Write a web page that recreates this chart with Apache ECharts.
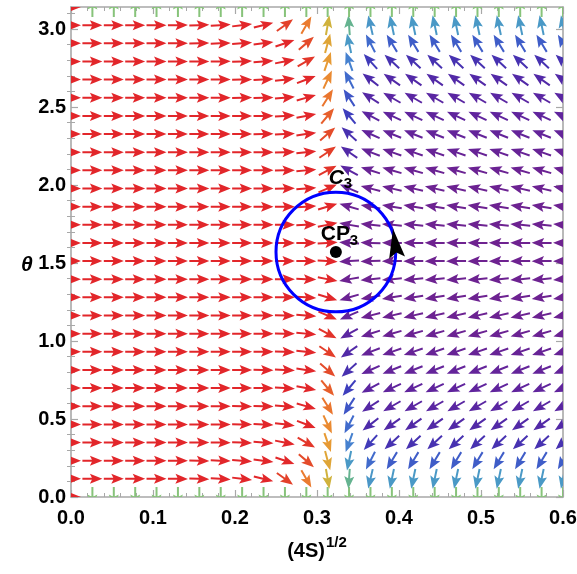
<!DOCTYPE html>
<html>
<head>
<meta charset="utf-8">
<script src="https://cdn.jsdelivr.net/npm/echarts@6/dist/echarts.min.js"></script>
<style>
  html, body { margin: 0; padding: 0; background: #fff; }
  #chart { width: 577px; height: 574px; }
</style>
</head>
<body>
<div id="chart"></div>
<script>
// grid of sample points: (4S)^(1/2) columns and theta rows
const xPoints = [0, 0.0261, 0.0522, 0.0783, 0.1043, 0.1304, 0.1565, 0.1826, 0.2087, 0.2348,
  0.2609, 0.2870, 0.3130, 0.3391, 0.3652, 0.3913, 0.4174, 0.4435, 0.4696, 0.4957,
  0.5217, 0.5478, 0.5739, 0.6000]
const thetaPoints = [0, 0.1164, 0.2327, 0.3491, 0.4654, 0.5818, 0.6981, 0.8145, 0.9308, 1.0472,
  1.1636, 1.2799, 1.3963, 1.5126, 1.6290, 1.7453, 1.8617, 1.9780, 2.0944, 2.2108,
  2.3271, 2.4435, 2.5598, 2.6762, 2.7925, 2.9089, 3.0252, 3.1416]

// arrow direction (degrees, 0 = right, 90 = up), one row per theta
const arrowAngles = [
  [0, -90, -90, -90, -90, -90, -90, -90, -90, -90, -90, -90, -90, -90, -90, -90, -90, -90, -90, -90, -90, -90, -90, -90],
  [0, 0, 0, 0, 0, -1, -2, -4, -7, -14, -36, -60, -80, -94, -103, -102, -102, -102, -102, -102, -102, -102, -102, -102],
  [0, 0, 0, 0, 0, 0, -1, -2, -4, -7, -19, -41, -75, -102, -117, -121, -121, -121, -121, -121, -121, -121, -121, -121],
  [0, 0, 0, 0, 0, 0, 0, -1, -2, -4, -11, -30, -71, -110, -132, -137, -137, -137, -137, -137, -137, -137, -137, -137],
  [0, 0, 0, 0, 0, 0, 0, 0, -1, -3, -7, -21, -65, -117, -142, -145, -145, -145, -145, -145, -145, -145, -145, -145],
  [0, 0, 0, 0, 0, 0, 0, 0, -1, -2, -5, -16, -58, -123, -147, -150, -150, -150, -150, -150, -150, -150, -150, -150],
  [0, 0, 0, 0, 0, 0, 0, 0, 0, -1, -4, -11, -50, -130, -152, -155, -155, -155, -155, -155, -155, -155, -155, -155],
  [0, 0, 0, 0, 0, 0, 0, 0, 0, -1, -3, -8, -41, -138, -156, -158, -158, -158, -158, -158, -158, -158, -158, -158],
  [0, 0, 0, 0, 0, 0, 0, 0, 0, 0, -2, -6, -34, -145, -159, -161, -161, -161, -161, -161, -161, -161, -161, -161],
  [0, 0, 0, 0, 0, 0, 0, 0, 0, 0, -1, -5, -28, -151, -162, -164, -164, -164, -164, -164, -164, -164, -164, -164],
  [0, 0, 0, 0, 0, 0, 0, 0, 0, 0, -1, -4, -23, -157, -166, -167, -167, -167, -167, -167, -167, -167, -167, -167],
  [0, 0, 0, 0, 0, 0, 0, 0, 0, 0, 0, -3, -17, -164, -170, -171, -171, -171, -171, -171, -171, -171, -171, -171],
  [0, 0, 0, 0, 0, 0, 0, 0, 0, 0, 0, -2, -11, -170, -174, -175, -175, -175, -175, -175, -175, -175, -175, -175],
  [0, 0, 0, 0, 0, 0, 0, 0, 0, 0, 0, -1, -4, -176, -178, -179, -179, -179, -179, -179, -179, -179, -179, -179],
  [0, 0, 0, 0, 0, 0, 0, 0, 0, 0, 0, 1, 4, 176, 178, 179, 179, 179, 179, 179, 179, 179, 179, 179],
  [0, 0, 0, 0, 0, 0, 0, 0, 0, 0, 0, 2, 11, 170, 174, 175, 175, 175, 175, 175, 175, 175, 175, 175],
  [0, 0, 0, 0, 0, 0, 0, 0, 0, 0, 0, 3, 17, 164, 170, 171, 171, 171, 171, 171, 171, 171, 171, 171],
  [0, 0, 0, 0, 0, 0, 0, 0, 0, 0, 1, 4, 23, 157, 166, 167, 167, 167, 167, 167, 167, 167, 167, 167],
  [0, 0, 0, 0, 0, 0, 0, 0, 0, 0, 1, 5, 28, 151, 162, 164, 164, 164, 164, 164, 164, 164, 164, 164],
  [0, 0, 0, 0, 0, 0, 0, 0, 0, 0, 2, 6, 34, 145, 159, 161, 161, 161, 161, 161, 161, 161, 161, 161],
  [0, 0, 0, 0, 0, 0, 0, 0, 0, 1, 3, 8, 41, 138, 156, 158, 158, 158, 158, 158, 158, 158, 158, 158],
  [0, 0, 0, 0, 0, 0, 0, 0, 0, 1, 4, 11, 50, 130, 152, 155, 155, 155, 155, 155, 155, 155, 155, 155],
  [0, 0, 0, 0, 0, 0, 0, 0, 1, 2, 5, 16, 58, 123, 147, 150, 150, 150, 150, 150, 150, 150, 150, 150],
  [0, 0, 0, 0, 0, 0, 0, 0, 1, 3, 7, 21, 65, 117, 142, 145, 145, 145, 145, 145, 145, 145, 145, 145],
  [0, 0, 0, 0, 0, 0, 0, 1, 2, 4, 11, 30, 71, 110, 132, 137, 137, 137, 137, 137, 137, 137, 137, 137],
  [0, 0, 0, 0, 0, 0, 1, 2, 4, 7, 19, 41, 75, 102, 117, 121, 121, 121, 121, 121, 121, 121, 121, 121],
  [0, 0, 0, 0, 0, 1, 2, 4, 7, 14, 36, 60, 80, 94, 103, 102, 102, 102, 102, 102, 102, 102, 102, 102],
  [0, 90, 90, 90, 90, 90, 90, 90, 90, 90, 90, 90, 90, 90, 90, 90, 90, 90, 90, 90, 90, 90, 90, 90]
]

// critical point CP3 and the loop C3 around it
const cpPoint = [0.323, 1.5708]
const loopRadiusX = 0.073

const yMajorTicks = [0, 0.5, 1.0, 1.5, 2.0, 2.5, 3.0]
const yMinorTicks = [0.1, 0.2, 0.3, 0.4, 0.6, 0.7, 0.8, 0.9, 1.1, 1.2, 1.3, 1.4, 1.6, 1.7, 1.8, 1.9,
  2.1, 2.2, 2.3, 2.4, 2.6, 2.7, 2.8, 2.9, 3.1]

// colour by arrow heading (Mathematica-like rainbow)
const colorStops = [
  [0, '#e2262a'], [22, '#e2282a'], [38, '#e3452a'], [52, '#e8632c'], [63, '#eb8430'],
  [72, '#e69d34'], [79, '#d6b03a'], [85, '#b3bd44'], [90, '#87c37a'], [95, '#5daf95'],
  [101, '#4b9cc4'], [108, '#4787d0'], [118, '#4068cc'], [128, '#3c42c0'], [140, '#4a2cac'],
  [152, '#5d25a0'], [165, '#6c2292'], [180, '#6e2290']
]

const hexToRgb = h => [1, 3, 5].map(i => parseInt(h.substr(i, 2), 16))
const colorFor = deg => {
  const d = Math.abs(deg)
  for (let i = 1; i < colorStops.length; i++) {
    if (d <= colorStops[i][0]) {
      const [d0, c0] = colorStops[i - 1]
      const [d1, c1] = colorStops[i]
      const t = (d - d0) / (d1 - d0)
      const a = hexToRgb(c0), b = hexToRgb(c1)
      return 'rgb(' + a.map((v, k) => Math.round(v + (b[k] - v) * t)).join(',') + ')'
    }
  }
  return colorStops[colorStops.length - 1][1]
}

const arrowData = []
thetaPoints.forEach((th, i) => {
  xPoints.forEach((x, j) => {
    arrowData.push([x, th, arrowAngles[i][j]])
  })
})

// arrow pointing to +x, centred on the sample point
const arrowShape = [[-10, -1], [-0.5, -1], [-2.5, -5], [10, 0], [-2.5, 5], [-0.5, 1], [-10, 1]]

const frameColor = '#a8a8a8'
const sansFont = 'Liberation Sans, Arial, sans-serif'
const labelFont = { color: '#000', fontSize: 20, fontWeight: 'bold', fontFamily: sansFont }

const chart = echarts.init(document.getElementById('chart'))

const option = {
  animation: false,
  backgroundColor: '#fff',
  grid: { left: 71, right: 14, top: 7, bottom: 77, containLabel: false, outerBoundsMode: 'none' },
  graphic: [
    {
      type: 'text', left: 21, top: 255,
      style: { text: 'θ', fill: '#000', font: 'italic bold 21px Liberation Sans, Arial, sans-serif' }
    }
  ],
  xAxis: [
    {
      type: 'value', min: 0, max: 0.6, interval: 0.1, position: 'bottom',
      name: '{b|(4S)}{s|1/2}', nameLocation: 'middle', nameGap: 36,
      nameTextStyle: {
        rich: {
          b: { fontSize: 20, fontWeight: 'bold', color: '#000', fontFamily: sansFont, padding: [8, 0, 0, 0] },
          s: { fontSize: 15, fontWeight: 'bold', color: '#000', fontFamily: sansFont, padding: [0, 0, 8, 1] }
        }
      },
      axisLine: { show: true, onZero: false, lineStyle: { color: frameColor, width: 1.6 } },
      axisTick: { show: true, inside: true, length: 7, lineStyle: { color: frameColor, width: 1.2 } },
      minorTick: { show: true, splitNumber: 5, length: 4, lineStyle: { color: frameColor, width: 1 } },
      axisLabel: { ...labelFont, margin: 11, formatter: v => v.toFixed(1) },
      splitLine: { show: false }
    },
    {
      type: 'value', min: 0, max: 0.6, interval: 0.1, position: 'top',
      axisLine: { show: true, onZero: false, lineStyle: { color: frameColor, width: 1.6 } },
      axisTick: { show: true, inside: true, length: 7, lineStyle: { color: frameColor, width: 1.2 } },
      minorTick: { show: true, splitNumber: 5, length: 4, lineStyle: { color: frameColor, width: 1 } },
      axisLabel: { show: false },
      splitLine: { show: false }
    }
  ],
  yAxis: [
    {
      type: 'value', min: 0, max: Math.PI, interval: 0.5, position: 'left',
      axisLine: { show: true, onZero: false, lineStyle: { color: frameColor, width: 1.6 } },
      axisTick: { show: true, inside: true, length: 7, customValues: yMajorTicks, lineStyle: { color: frameColor, width: 1.2 } },
      axisLabel: { ...labelFont, margin: 5, customValues: yMajorTicks, formatter: v => v.toFixed(1) },
      splitLine: { show: false }
    },
    {
      type: 'value', min: 0, max: Math.PI, interval: 0.5, position: 'right',
      axisLine: { show: true, onZero: false, lineStyle: { color: frameColor, width: 1.6 } },
      axisTick: { show: true, inside: true, length: 7, customValues: yMajorTicks, lineStyle: { color: frameColor, width: 1.2 } },
      axisLabel: { show: false },
      splitLine: { show: false }
    },
    {
      type: 'value', min: 0, max: Math.PI, interval: 0.5, position: 'left',
      axisLine: { show: false },
      axisTick: { show: true, inside: true, length: 4, customValues: yMinorTicks, lineStyle: { color: frameColor, width: 1 } },
      axisLabel: { show: false },
      splitLine: { show: false }
    },
    {
      type: 'value', min: 0, max: Math.PI, interval: 0.5, position: 'right',
      axisLine: { show: false },
      axisTick: { show: true, inside: true, length: 4, customValues: yMinorTicks, lineStyle: { color: frameColor, width: 1 } },
      axisLabel: { show: false },
      splitLine: { show: false }
    }
  ],
  series: [
    {
      type: 'custom',
      name: 'field',
      xAxisIndex: 0,
      yAxisIndex: 0,
      clip: true,
      data: arrowData,
      renderItem: (params, api) => {
        const p = api.coord([api.value(0), api.value(1)])
        const deg = api.value(2)
        return {
          type: 'polygon',
          x: p[0],
          y: p[1],
          rotation: deg * Math.PI / 180,
          shape: { points: arrowShape },
          style: { fill: colorFor(deg) }
        }
      }
    },
    {
      type: 'custom',
      name: 'loop',
      xAxisIndex: 0,
      yAxisIndex: 0,
      z: 5,
      data: [cpPoint],
      renderItem: (params, api) => {
        const p = api.coord([api.value(0), api.value(1)])
        const r = api.size([loopRadiusX, 0])[0]
        const phi = 8 * Math.PI / 180
        const hx = p[0] + r * Math.cos(phi)
        const hy = p[1] - r * Math.sin(phi)
        return {
          type: 'group',
          children: [
            { type: 'circle', shape: { cx: p[0], cy: p[1], r: r }, style: { fill: 'none', stroke: '#0000ff', lineWidth: 3 } },
            {
              type: 'polygon', x: hx, y: hy, rotation: phi + Math.PI / 2,
              shape: { points: [[15, 0], [-14, -8], [-9, 0], [-14, 8]] },
              style: { fill: '#000' }
            },
            { type: 'circle', shape: { cx: p[0], cy: p[1], r: 6 }, style: { fill: '#000' } },
            { type: 'text', x: p[0] - 15, y: p[1] - 18, style: { text: 'CP', fill: '#000', font: 'bold 21px ' + sansFont, align: 'left', verticalAlign: 'middle' } },
            { type: 'text', x: p[0] + 14, y: p[1] - 11, style: { text: '3', fill: '#000', font: 'bold 15px ' + sansFont, align: 'left', verticalAlign: 'middle' } },
            { type: 'text', x: p[0] - 7, y: p[1] - 74, style: { text: 'C', fill: '#000', font: 'italic bold 21px ' + sansFont, align: 'left', verticalAlign: 'middle' } },
            { type: 'text', x: p[0] + 8, y: p[1] - 68, style: { text: '3', fill: '#000', font: 'bold 15px ' + sansFont, align: 'left', verticalAlign: 'middle' } }
          ]
        }
      }
    }
  ]
}

chart.setOption(option)
</script>
</body>
</html>
